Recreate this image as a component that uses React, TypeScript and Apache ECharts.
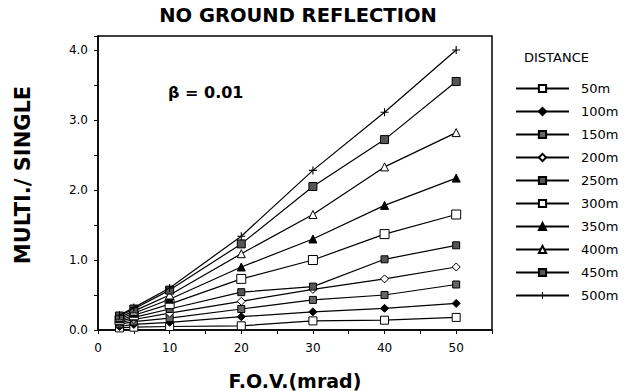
import React, { useEffect, useRef } from "react";
import * as echarts from "echarts";

const FOV = [3, 5, 10, 20, 30, 40, 50];
const distances = ["50m", "100m", "150m", "200m", "250m", "300m", "350m", "400m", "450m", "500m"];
const d50 = [0.03, 0.04, 0.05, 0.06, 0.13, 0.14, 0.18];
const d100 = [0.05, 0.08, 0.11, 0.19, 0.26, 0.31, 0.38];
const d150 = [0.08, 0.12, 0.17, 0.30, 0.43, 0.50, 0.65];
const d200 = [0.10, 0.15, 0.24, 0.41, 0.58, 0.73, 0.90];
const d250 = [0.12, 0.18, 0.30, 0.54, 0.62, 1.01, 1.21];
const d300 = [0.14, 0.21, 0.37, 0.73, 1.00, 1.37, 1.65];
const d350 = [0.16, 0.24, 0.44, 0.90, 1.30, 1.78, 2.17];
const d400 = [0.18, 0.27, 0.50, 1.09, 1.65, 2.33, 2.82];
const d450 = [0.20, 0.30, 0.57, 1.23, 2.05, 2.72, 3.55];
const d500 = [0.21, 0.32, 0.60, 1.34, 2.28, 3.11, 4.00];
const seriesValues = [d50, d100, d150, d200, d250, d300, d350, d400, d450, d500];

const PLUS = "path://M4.3,0H5.7V4.3H10V5.7H5.7V10H4.3V5.7H0V4.3H4.3Z";
const markers = [
  { symbol: "rect", fill: "#fff", size: 8 },
  { symbol: "diamond", fill: "#000", size: 8 },
  { symbol: "rect", fill: "#666", size: 7 },
  { symbol: "diamond", fill: "#fff", size: 8 },
  { symbol: "rect", fill: "#555", size: 7 },
  { symbol: "rect", fill: "#fff", size: 9 },
  { symbol: "triangle", fill: "#000", size: 8 },
  { symbol: "triangle", fill: "#fff", size: 8 },
  { symbol: "rect", fill: "#555", size: 8 },
  { symbol: PLUS, fill: "#000", size: 8 },
];

const FONT = "DejaVu Sans";

export default function App() {
  const ref = useRef<HTMLDivElement>(null);
  useEffect(() => {
    const chart = echarts.init(ref.current!, null, { renderer: "svg" });
    const series = distances.map((name, i) => ({
      name,
      type: "line",
      data: FOV.map((x, j) => [x, seriesValues[i][j]]),
      symbol: markers[i].symbol,
      symbolSize: markers[i].size,
      lineStyle: { color: "#000", width: 1.2 },
      itemStyle: {
        color: markers[i].fill,
        borderColor: "#000",
        borderWidth: markers[i].symbol === PLUS ? 0 : 1,
      },
      z: 2 + i,
    }));
    chart.setOption({
      animation: false,
      backgroundColor: "#fff",
      title: {
        text: "NO GROUND REFLECTION",
        left: 293,
        textAlign: "center",
        top: 0,
        textStyle: { fontFamily: FONT, fontWeight: "bold", fontSize: 19.5, color: "#000" },
      },
      grid: {
        left: 98,
        right: 133,
        top: 36,
        bottom: 61,
        show: true,
        borderColor: "#000",
        borderWidth: 1.5,
        backgroundColor: "transparent",
        containLabel: false,
        outerBoundsMode: "none",
      },
      legend: {
        orient: "vertical",
        left: 510,
        top: 77,
        itemWidth: 53,
        itemHeight: 9,
        itemGap: 10,
        data: distances,
        textStyle: { fontFamily: FONT, fontSize: 13, color: "#000", padding: [0, 0, 0, 7] },
      },
      xAxis: {
        type: "value",
        min: 0,
        max: 55,
        interval: 5,
        name: "F.O.V.(mrad)",
        nameLocation: "middle",
        nameGap: 41,
        nameTextStyle: { fontFamily: FONT, fontWeight: "bold", fontSize: 19, lineHeight: 19, color: "#000" },
        axisLine: { lineStyle: { color: "#000", width: 1.5 } },
        axisTick: { show: true, length: 4, lineStyle: { color: "#000" } },
        splitLine: { show: false },
        axisLabel: {
          fontFamily: FONT,
          fontSize: 12,
          color: "#000",
          margin: 12,
          formatter: (v: number) => (v % 10 === 0 && v <= 50 ? String(v) : ""),
        },
      },
      yAxis: {
        type: "value",
        min: 0,
        max: 4.2,
        interval: 0.5,
        axisLine: { show: true, lineStyle: { color: "#000", width: 1.5 } },
        axisTick: { show: true, length: 4, lineStyle: { color: "#000" } },
        splitLine: { show: false },
        axisLabel: {
          fontFamily: FONT,
          fontSize: 12,
          color: "#000",
          margin: 10,
          formatter: (v: number) => (Math.abs(v - Math.round(v)) < 1e-6 ? v.toFixed(1) : ""),
        },
      },
      graphic: [
        {
          type: "text",
          x: 23,
          y: 175,
          rotation: Math.PI / 2,
          style: {
            text: "MULTI./ SINGLE",
            fontFamily: FONT,
            fontWeight: "bold",
            fontSize: 21,
            fill: "#000",
            align: "center",
            verticalAlign: "middle",
          },
        },
        {
          type: "text",
          left: 168,
          top: 84,
          style: { text: "β = 0.01", fontFamily: FONT, fontWeight: "bold", fontSize: 16, fill: "#000" },
        },
        {
          type: "text",
          left: 524,
          top: 51,
          style: { text: "DISTANCE", fontFamily: FONT, fontSize: 13, fill: "#000" },
        },
      ],
      series,
    });
    return () => chart.dispose();
  }, []);
  return <div ref={ref} style={{ width: 625, height: 391, position: "absolute", left: 0, top: 0 }} />;
}
